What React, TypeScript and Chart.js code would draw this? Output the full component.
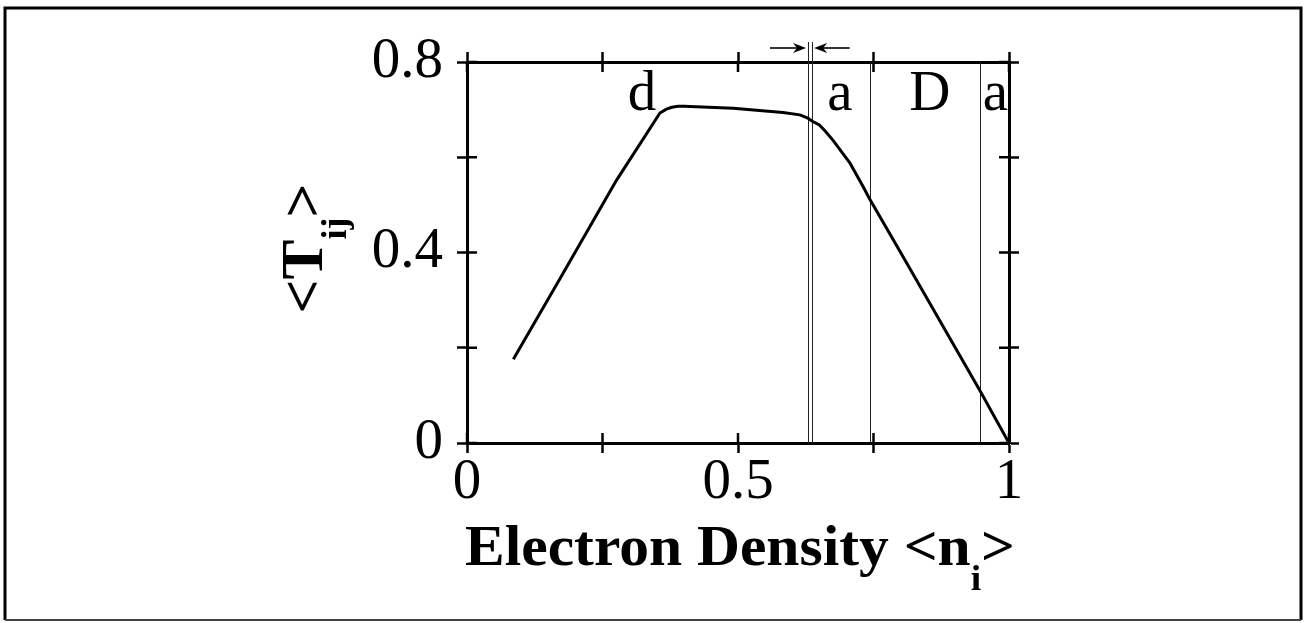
import React, { useEffect, useRef } from 'react';
import { Chart, registerables } from 'chart.js';

Chart.register(...registerables);

// ---- data ----
const densityX = [0.0855, 0.172, 0.276, 0.356, 0.368, 0.378, 0.39, 0.40, 0.491, 0.583, 0.614, 0.629, 0.638, 0.65, 0.66, 0.675, 0.707, 0.731, 0.744, 0.799, 0.946, 1.0];
const hoppingY = [0.176, 0.346, 0.552, 0.693, 0.701, 0.705, 0.707, 0.707, 0.703, 0.694, 0.689, 0.682, 0.675, 0.668, 0.656, 0.636, 0.587, 0.538, 0.510, 0.402, 0.111, 0.0];

const xTickValues = [0, 0.25, 0.5, 0.75, 1];
const xTickLabels = ['0', '', '0.5', '', '1'];
const yTickValues = [0, 0.2, 0.4, 0.6, 0.8];
const yTickLabels = ['0', '', '0.4', '', '0.8'];

const boundaryLines = [0.629, 0.637, 0.744, 0.946];
const doubleLines = [0.629, 0.637];
const regionLabels = ['d', 'a', 'D', 'a'];
const regionLabelX = [0.323, 0.688, 0.854, 0.975];
const regionLabelY = 0.70;
const arrowFromX = [0.559, 0.706];
const arrowToX = [0.6255, 0.6405];

const xTitleParts = [
  { text: 'Electron Density <n', sub: false },
  { text: 'i', sub: true },
  { text: '>', sub: false },
];
const yTitleParts = [
  { text: '<T', sub: false },
  { text: 'ij', sub: true },
  { text: '>', sub: false },
];

const SERIF = '"Liberation Serif", "Times New Roman", serif';

function drawParts(ctx: CanvasRenderingContext2D, parts: { text: string; sub: boolean }[], mainFont: string, subFont: string, subShift: number, cx: number, baseY: number, targetWidth?: number) {
  let total = 0;
  const widths: number[] = [];
  for (const p of parts) {
    ctx.font = p.sub ? subFont : mainFont;
    const w = ctx.measureText(p.text).width;
    widths.push(w);
    total += w;
  }
  const sx = targetWidth ? targetWidth / total : 1;
  ctx.save();
  ctx.translate(cx, baseY);
  ctx.scale(sx, 1);
  let x = -total / 2;
  ctx.textAlign = 'left';
  ctx.textBaseline = 'alphabetic';
  parts.forEach((p, i) => {
    ctx.font = p.sub ? subFont : mainFont;
    ctx.fillText(p.text, x, p.sub ? subShift : 0);
    x += widths[i];
  });
  ctx.restore();
}

const decorPlugin = {
  id: 'decor',
  beforeDatasetsDraw(chart: any) {
    const { ctx, chartArea, scales } = chart;
    const xs = scales.x;
    const ys = scales.y;
    ctx.save();
    // boundary lines
    ctx.strokeStyle = '#222';
    ctx.lineWidth = 1;
    boundaryLines.forEach((v) => {
      const px = Math.round(xs.getPixelForValue(v)) + 0.5;
      const top = doubleLines.includes(v) ? chartArea.top - 20 : chartArea.top;
      ctx.beginPath();
      ctx.moveTo(px, top);
      ctx.lineTo(px, chartArea.bottom);
      ctx.stroke();
    });
    // arrows
    const ay = chartArea.top - 14;
    ctx.fillStyle = '#000';
    ctx.lineWidth = 1.6;
    ctx.strokeStyle = '#000';
    arrowFromX.forEach((fx, i) => {
      const x0 = xs.getPixelForValue(fx);
      const x1 = xs.getPixelForValue(arrowToX[i]);
      const dir = Math.sign(x1 - x0);
      ctx.beginPath();
      ctx.moveTo(x0, ay);
      ctx.lineTo(x1 - dir * 6, ay);
      ctx.stroke();
      ctx.beginPath();
      ctx.moveTo(x1, ay);
      ctx.lineTo(x1 - dir * 13, ay - 5);
      ctx.lineTo(x1 - dir * 9, ay);
      ctx.lineTo(x1 - dir * 13, ay + 5);
      ctx.closePath();
      ctx.fill();
    });
    // inner tick halves
    ctx.lineWidth = 2.5;
    ctx.beginPath();
    xTickValues.forEach((v) => {
      const px = xs.getPixelForValue(v);
      ctx.moveTo(px, chartArea.bottom);
      ctx.lineTo(px, chartArea.bottom - 10);
      ctx.moveTo(px, chartArea.top);
      ctx.lineTo(px, chartArea.top + 10);
    });
    yTickValues.forEach((v) => {
      const py = ys.getPixelForValue(v);
      ctx.moveTo(chartArea.left, py);
      ctx.lineTo(chartArea.left + 10, py);
      ctx.moveTo(chartArea.right, py);
      ctx.lineTo(chartArea.right - 10, py);
    });
    ctx.stroke();
    // region labels
    ctx.font = `57px ${SERIF}`;
    ctx.textAlign = 'center';
    ctx.textBaseline = 'alphabetic';
    regionLabels.forEach((t, i) => {
      ctx.fillText(t, xs.getPixelForValue(regionLabelX[i]), ys.getPixelForValue(regionLabelY));
    });
    ctx.restore();
  },
  afterDraw(chart: any) {
    const { ctx, chartArea } = chart;
    ctx.save();
    ctx.fillStyle = '#000';
    // x title
    drawParts(ctx, xTitleParts, `bold 57px ${SERIF}`, `bold 36px ${SERIF}`, 25, (chartArea.left + chartArea.right) / 2 + 2, chartArea.bottom + 122, 550);
    // y title
    ctx.save();
    ctx.translate(chartArea.left - 145, (chartArea.top + chartArea.bottom) / 2 - 4);
    ctx.rotate(-Math.PI / 2);
    drawParts(ctx, yTitleParts, `bold 60px ${SERIF}`, `bold 36px ${SERIF}`, 24, 0, 0, 130);
    ctx.restore();
    // frame
    ctx.strokeStyle = '#000';
    ctx.lineWidth = 3;
    ctx.beginPath();
    ctx.moveTo(5, 620);
    ctx.lineTo(5, 8);
    ctx.lineTo(1301, 8);
    ctx.lineTo(1301, 620);
    ctx.stroke();
    ctx.strokeStyle = '#444';
    ctx.lineWidth = 2;
    ctx.beginPath();
    ctx.moveTo(5, 620);
    ctx.lineTo(1301, 620);
    ctx.stroke();
    ctx.restore();
  },
};

export default function App() {
  const ref = useRef<HTMLCanvasElement | null>(null);
  useEffect(() => {
    if (!ref.current) return;
    const tickFont = { family: SERIF, size: 57, lineHeight: 1 };
    const commonGrid = { drawOnChartArea: false, drawTicks: true, tickLength: 10, tickWidth: 2.5, tickColor: '#000' };
    const border = { display: true, width: 3, color: '#000' };
    const chart = new Chart(ref.current, {
      type: 'line',
      data: {
        datasets: [
          {
            data: densityX.map((x, i) => ({ x, y: hoppingY[i] })),
            borderColor: '#000',
            borderWidth: 3,
            pointRadius: 0,
            tension: 0,
            fill: false,
            borderJoinStyle: 'round',
          },
        ],
      },
      options: {
        responsive: false,
        animation: false,
        devicePixelRatio: 1,
        layout: { padding: { left: 0, top: 62, right: 296, bottom: 0 } },
        plugins: { legend: { display: false }, tooltip: { enabled: false }, title: { display: false } },
        scales: {
          x: {
            type: 'linear',
            position: 'bottom',
            min: 0,
            max: 1,
            afterBuildTicks: (s: any) => { s.ticks = xTickValues.map((v) => ({ value: v })); },
            afterFit: (s: any) => { s.height = 180; },
            ticks: {
              autoSkip: false,
              maxRotation: 0,
              padding: 2,
              color: '#000',
              font: tickFont,
              callback: (v: any) => { const i = xTickValues.indexOf(Number(v)); return i >= 0 ? xTickLabels[i] : ''; },
            },
            grid: commonGrid,
            border,
          },
          x2: {
            type: 'linear',
            position: 'top',
            min: 0,
            max: 1,
            afterBuildTicks: (s: any) => { s.ticks = xTickValues.map((v) => ({ value: v })); },
            afterFit: (s: any) => { s.height = 0; },
            ticks: { display: false },
            grid: commonGrid,
            border,
          },
          y: {
            type: 'linear',
            position: 'left',
            min: 0,
            max: 0.8,
            afterBuildTicks: (s: any) => { s.ticks = yTickValues.map((v) => ({ value: v })); },
            afterFit: (s: any) => { s.width = 467; },
            ticks: {
              autoSkip: false,
              padding: 14,
              color: '#000',
              font: tickFont,
              callback: (v: any) => { const i = yTickValues.indexOf(Number(v)); return i >= 0 ? yTickLabels[i] : ''; },
            },
            grid: commonGrid,
            border,
          },
          y2: {
            type: 'linear',
            position: 'right',
            min: 0,
            max: 0.8,
            afterBuildTicks: (s: any) => { s.ticks = yTickValues.map((v) => ({ value: v })); },
            afterFit: (s: any) => { s.width = 0; },
            ticks: { display: false },
            grid: commonGrid,
            border,
          },
        },
      },
      plugins: [decorPlugin],
    } as any);
    return () => chart.destroy();
  }, []);
  return (
    <div style={{ position: 'absolute', left: 0, top: 0, width: 1305, height: 623, background: '#fff' }}>
      <canvas ref={ref} width={1305} height={623} style={{ width: 1305, height: 623, display: 'block' }} />
    </div>
  );
}
